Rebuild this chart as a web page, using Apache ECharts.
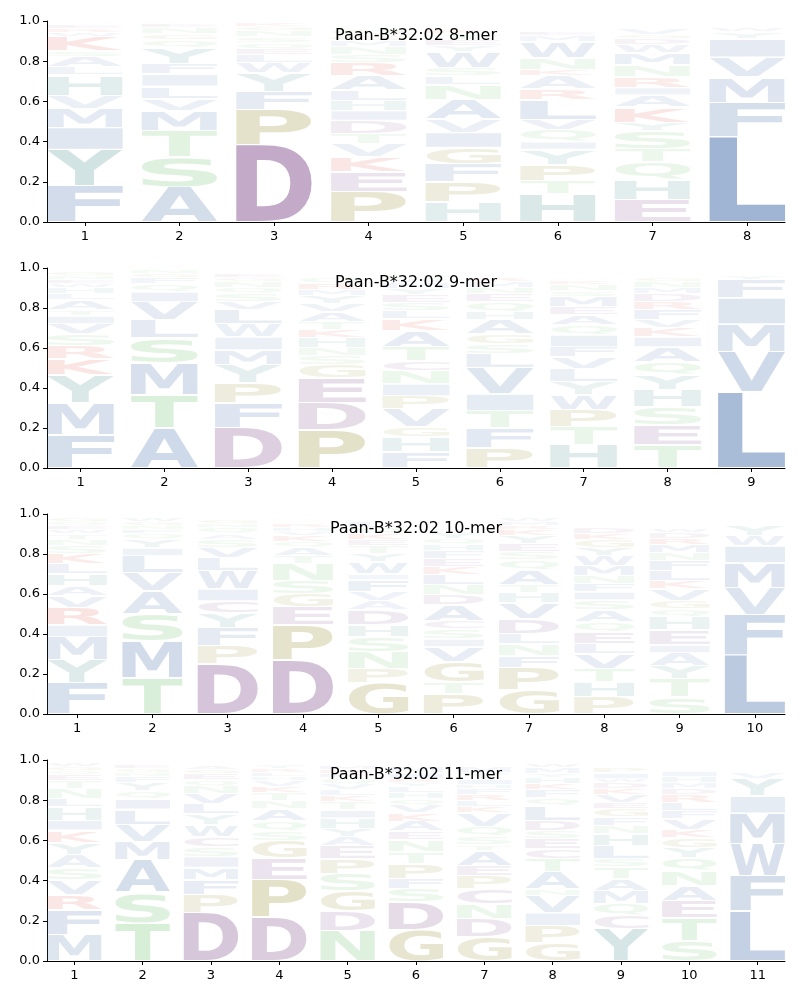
<!DOCTYPE html>
<html>
<head>
<meta charset="utf-8">
<script src="https://cdn.jsdelivr.net/npm/echarts@6/dist/echarts.min.js"></script>
<style>html,body{margin:0;padding:0;background:#fff}#c{width:800px;height:1000px}</style>
</head>
<body>
<div id="c"></div>
<script>
// ---- data: letters listed bottom-to-top per position, with their frequencies ----
const allele = 'Paan-B*32:02';

const letters8 = ["FYIMVHLASKWRE","ASTMVLIFYQGNE","DPFYWLEQSNGK","PEKVTDIHLARSNMGQ","HPFGIVANLSWYETK","HTPYIQVLRAKNWME","EHQTSYKAIRNMWDGV","LFMVIYW"];
const freqs8 = [
  [.18,.18,.11,.095,.065,.10,.04,.05,.03,.07,.02,.02,.02],
  [.175,.15,.13,.10,.06,.06,.06,.05,.08,.04,.03,.03,.02],
  [.38,.18,.09,.09,.05,.04,.03,.03,.03,.03,.02,.02],
  [.15,.10,.075,.065,.05,.065,.05,.05,.05,.07,.065,.04,.04,.03,.03,.03],
  [.10,.10,.09,.08,.075,.065,.10,.075,.04,.04,.08,.03,.03,.03,.02],
  [.14,.065,.08,.075,.04,.06,.05,.10,.05,.065,.03,.06,.08,.03,.02],
  [.11,.10,.09,.065,.09,.04,.075,.06,.04,.05,.06,.06,.04,.03,.02,.03],
  [.425,.17,.125,.10,.09,.035,.02]
];

const letters9 = ["FMYKRSVITALHWENG","ATMSLVIQFGN","DFPYMIWLVSQNGE","PDEGSNHKTAVYMRQ","FHGVPINCTAKLSEYMWQ","PFTIVLSGAHQENMR","HTPWYLVFIQAEMSNK","TESHYQAIKVFRDMNG","LVMIFY"];
const freqs9 = [
  [.165,.16,.14,.08,.065,.06,.05,.04,.03,.05,.03,.03,.02,.02,.02,.02],
  [.2,.165,.16,.125,.09,.09,.05,.04,.03,.02,.02],
  [.2,.125,.1,.09,.075,.065,.065,.07,.04,.04,.03,.03,.02,.02],
  [.19,.135,.125,.065,.045,.04,.05,.04,.04,.05,.04,.04,.03,.03,.03],
  [.08,.075,.05,.09,.065,.06,.065,.05,.07,.08,.06,.04,.04,.04,.03,.03,.02,.02],
  [.1,.1,.085,.085,.13,.07,.05,.05,.07,.04,.05,.04,.03,.03,.02],
  [.115,.09,.085,.075,.065,.065,.06,.05,.06,.05,.05,.04,.05,.03,.03,.02],
  [.115,.1,.09,.085,.075,.065,.075,.05,.045,.04,.05,.04,.04,.03,.03,.02],
  [.38,.2,.14,.13,.09,.02]
];

const letters10 = ["FYMIRVAHLKSNTWEQG","TMSAVLIYQFNGW","DPFYCIWLVSAQNG","DPEGSNTAQKVHR","GPNSHDAVFIWYTEKQL","PTGVISCADNLKEFHQY","GPFNLDVHTAQSEYKRMW","PHTVLEQASIFNMWYGKD","STYAIEHQGVKLFNMRDW","LFVMIWY"];
const freqs10 = [
  [.155,.115,.115,.06,.085,.06,.05,.06,.05,.05,.04,.03,.03,.02,.02,.02,.02],
  [.18,.185,.135,.115,.09,.085,.04,.04,.03,.02,.02,.02,.02],
  [.25,.09,.09,.075,.06,.06,.09,.065,.05,.04,.03,.03,.02,.02],
  [.27,.175,.09,.065,.065,.085,.04,.04,.03,.03,.02,.02,.02],
  [.155,.07,.085,.075,.06,.075,.045,.045,.06,.03,.06,.04,.04,.03,.03,.03,.03],
  [.1,.06,.1,.075,.04,.05,.04,.08,.05,.05,.05,.04,.04,.04,.03,.03,.03],
  [.12,.11,.06,.06,.05,.075,.08,.05,.04,.075,.05,.04,.04,.04,.03,.02,.02,.02],
  [.085,.075,.065,.075,.05,.06,.05,.06,.05,.04,.04,.04,.05,.05,.04,.04,.03,.03],
  [.085,.09,.065,.065,.04,.075,.065,.04,.04,.06,.04,.05,.05,.04,.04,.03,.03,.02],
  [.295,.2,.135,.125,.085,.05,.05]
];

const letters11 = ["MFRVSAYKIHLNTEQGW","TSAMVLIQYFNGE","DPFMISCWYLVNQEGA","DPEGSQANTKVHLRY","NDGSPEAYHITKLVQFRM","GDSFPTNEAKVQHLYRIM","GDNCPEATSQVKLRFHIYM","GPIVNATCESDLQFKHYMW","YCQMATSLHNFGEVKDWIP","STEANQYGKVFLRDMHI","LFWMIYV"];
const freqs11 = [
  [.13,.125,.075,.075,.06,.065,.06,.06,.05,.065,.04,.05,.04,.03,.02,.02,.02],
  [.19,.15,.165,.09,.085,.075,.05,.04,.04,.03,.02,.02,.02],
  [.24,.09,.075,.06,.055,.05,.05,.06,.05,.05,.05,.04,.03,.03,.02,.02],
  [.215,.19,.105,.085,.05,.05,.06,.04,.04,.03,.03,.02,.02,.02,.02],
  [.15,.1,.1,.085,.075,.065,.045,.04,.05,.04,.04,.03,.03,.03,.03,.02,.02,.02],
  [.155,.14,.065,.05,.075,.06,.06,.04,.05,.04,.04,.03,.03,.03,.02,.02,.03,.03],
  [.12,.09,.075,.075,.065,.05,.075,.03,.04,.05,.065,.03,.03,.03,.03,.02,.03,.03,.03],
  [.09,.085,.065,.085,.035,.085,.065,.05,.05,.04,.05,.07,.04,.04,.03,.03,.02,.03,.02],
  [.16,.065,.06,.065,.06,.06,.04,.065,.06,.04,.04,.04,.03,.04,.03,.03,.02,.03,.03],
  [.1,.115,.085,.075,.075,.065,.05,.05,.04,.05,.04,.04,.04,.03,.03,.03,.03],
  [.25,.175,.16,.15,.085,.085,.03]
];

const lengths = [8, 9, 10, 11];
const yTickValues = [0, 0.2, 0.4, 0.6, 0.8, 1.0];

// ---- styling ----
const FAMILY = '"DejaVu Sans"';
const GLYPH_FONT = 'bold 100px "DejaVu Sans"';
const ALPHABET = 'ACDEFGHIKLMNPQRSTVWY';
const GROUP_RGB = {
  blue: [75, 115, 172], purple: [128, 78, 140], khaki: [146, 138, 40],
  green: [100, 190, 100], red: [215, 60, 45], teal: [71, 141, 141]
};
const GROUP_OF = {A:'blue',V:'blue',L:'blue',I:'blue',M:'blue',F:'blue',W:'blue',
  D:'purple',E:'purple',C:'purple',P:'khaki',G:'khaki',S:'green',T:'green',N:'green',Q:'green',
  K:'red',R:'red',H:'teal',Y:'teal'};

function letterColor(ch, f) {
  const c = GROUP_RGB[GROUP_OF[ch]];
  const a = Math.min(1, 0.04 + 1.15 * f);
  return 'rgba(' + c[0] + ',' + c[1] + ',' + c[2] + ',' + a.toFixed(3) + ')';
}

// glyph ink metrics for stretching letters to fill their boxes
const cv = document.createElement('canvas');
const ctx = cv.getContext('2d');
ctx.font = GLYPH_FONT; ctx.textBaseline = 'middle'; ctx.textAlign = 'left';
const metrics = {};
for (const ch of ALPHABET) {
  const m = ctx.measureText(ch);
  metrics[ch] = {l: m.actualBoundingBoxLeft, r: m.actualBoundingBoxRight, a: m.actualBoundingBoxAscent, d: m.actualBoundingBoxDescent};
}

function buildData(letters, freqs) {
  const out = [];
  letters.forEach((str, i) => {
    let y = 0;
    for (let k = 0; k < str.length; k++) {
      const f = freqs[i][k];
      out.push([i + 1, y, y + f, ALPHABET.indexOf(str[k]), f]);
      y += f;
    }
  });
  return out;
}

function renderLetter(params, api) {
  const x = api.value(0), y0 = api.value(1), y1 = api.value(2);
  const ch = ALPHABET[api.value(3)], f = api.value(4);
  const pBL = api.coord([x - 0.4, y0]);
  const pTR = api.coord([x + 0.4, y1]);
  const pad = 0.8;
  const left = pBL[0], right = pTR[0];
  const bottom = pBL[1] - pad, top = pTR[1] + pad;
  if (bottom - top < 0.5) return null;
  const m = metrics[ch];
  const sx = (right - left) / (m.l + m.r);
  const sy = (bottom - top) / (m.a + m.d);
  return {
    type: 'text',
    x: left + m.l * sx,
    y: bottom - m.d * sy,
    scaleX: sx, scaleY: sy,
    silent: true,
    style: {text: ch, font: GLYPH_FONT, fill: letterColor(ch, f), align: 'left', verticalAlign: 'middle'}
  };
}

const datasets = [buildData(letters8, freqs8), buildData(letters9, freqs9), buildData(letters10, freqs10), buildData(letters11, freqs11)];
const gridTops = [21, 268, 514, 760];
const gridHeights = [201, 200, 200, 201];
const titleY = [36, 283, 529, 775];

const grids = [], xAxes = [], yAxes = [], series = [], graphics = [];
lengths.forEach((n, k) => {
  grids.push({left: 47, width: 738, top: gridTops[k], height: gridHeights[k], containLabel: false});
  const ticks = Array.from({length: n}, (_, i) => i + 1);
  xAxes.push({
    type: 'value', gridIndex: k, min: 0.6, max: n + 0.4,
    axisLine: {show: true, onZero: false, lineStyle: {color: '#000', width: 1}},
    axisTick: {show: true, length: 4, customValues: ticks, lineStyle: {color: '#000'}},
    axisLabel: {show: true, customValues: ticks, margin: 8, color: '#000', fontSize: 13, fontFamily: FAMILY},
    splitLine: {show: false}
  });
  yAxes.push({
    type: 'value', gridIndex: k, min: 0, max: 1, interval: 0.2,
    axisLine: {show: true, lineStyle: {color: '#000', width: 1}},
    axisTick: {show: true, length: 4, lineStyle: {color: '#000'}},
    axisLabel: {show: true, margin: 7, color: '#000', fontSize: 13, fontFamily: FAMILY,
      formatter: v => v.toFixed(1)},
    splitLine: {show: false}
  });
  series.push({
    type: 'custom', coordinateSystem: 'cartesian2d', xAxisIndex: k, yAxisIndex: k,
    data: datasets[k], renderItem: renderLetter, encode: {x: 0, y: [1, 2]},
    animation: false, clip: false
  });
  graphics.push({
    type: 'text', x: 416, y: titleY[k], z: 100,
    style: {text: allele + ' ' + n + '-mer', font: '16px ' + FAMILY, fill: '#000', align: 'center', verticalAlign: 'middle'}
  });
});

const chart = echarts.init(document.getElementById('c'), null, {renderer: 'canvas'});
chart.setOption({
  animation: false,
  backgroundColor: '#fff',
  grid: grids, xAxis: xAxes, yAxis: yAxes, series: series,
  graphic: graphics
});
</script>
</body>
</html>
